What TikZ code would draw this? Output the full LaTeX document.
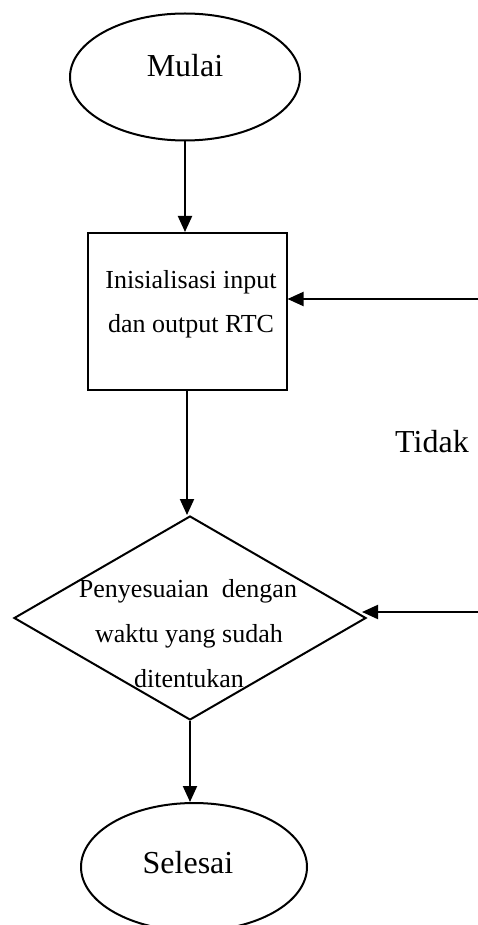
\documentclass[tikz,border=0pt]{standalone}
\usepackage{fontspec}
\setmainfont{Liberation Serif}
\usetikzlibrary{shapes.geometric,arrows.meta}
\begin{document}
\begin{tikzpicture}[x=1pt,y=-1pt,
  shapeline/.style={draw=black,line width=2pt,inner sep=0pt},
  oval/.style={shapeline,ellipse},
  procbox/.style={shapeline,rectangle},
  decide/.style={shapeline,diamond},
  conn/.style={line width=2pt,-{Triangle[width=14pt,length=16pt]}},
  bigtxt/.style={font=\fontsize{32}{38}\selectfont,anchor=base,inner sep=0pt},
  smalltxt/.style={font=\fontsize{26}{30}\selectfont,anchor=base,inner sep=0pt}]
\useasboundingbox (0,0) rectangle (478,925);
% shapes
\node[oval,minimum width=230pt,minimum height=127pt] (mulai) at (185,77) {};
\node[procbox,minimum width=199pt,minimum height=157pt] (box) at (187,311.5) {};
\node[decide,minimum width=352pt,minimum height=204pt] (dia) at (190,618) {};
\node[oval,minimum width=226pt,minimum height=128pt] (selesai) at (194,867) {};
% texts
\node[bigtxt] (tmulai) at (185,77) {Mulai};
\node[smalltxt] (tbox1) at (191,288) {Inisialisasi input};
\node[smalltxt] (tbox2) at (191,332) {dan output RTC};
\node[smalltxt] (tdia1) at (188,597) {Penyesuaian\ \ dengan};
\node[smalltxt] (tdia2) at (189,642) {waktu yang sudah};
\node[smalltxt] (tdia3) at (189,687) {ditentukan};
\node[bigtxt] (ttidak) at (432,452) {Tidak};
\node[bigtxt] (tselesai) at (188,873) {Selesai};
% connectors
\coordinate (in1) at (478,299);
\coordinate (in2) at (478,612);
\draw[conn] (mulai.south) -- (mulai.south |- box.north);
\draw[conn] (box.south) -- (box.south |- dia.north);
\draw[conn] (dia.south) -- (dia.south |- selesai.north);
\draw[conn] (in1) -- (in1 -| box.east);
\draw[conn,shorten >=-5pt] (in2) -- (in2 -| dia.east);
\end{tikzpicture}
\end{document}
